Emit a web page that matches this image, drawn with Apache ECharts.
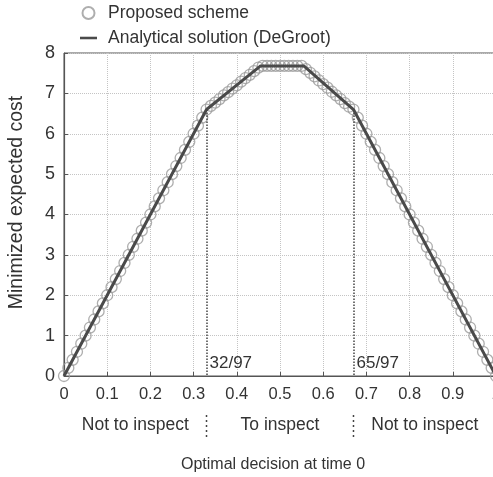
<!DOCTYPE html>
<html>
<head>
<meta charset="utf-8">
<script src="https://cdn.jsdelivr.net/npm/echarts@6/dist/echarts.min.js"></script>
<style>
  html, body { margin: 0; padding: 0; background: #fff; }
  #chart { width: 493px; height: 477px; }
</style>
</head>
<body>
<div id="chart"></div>
<script>
// proposed scheme, sampled every 0.01
const proposedX = [
  0, 0.01, 0.02, 0.03, 0.04, 0.05, 0.06, 0.07, 0.08, 0.09,
  0.1, 0.11, 0.12, 0.13, 0.14, 0.15, 0.16, 0.17, 0.18, 0.19,
  0.2, 0.21, 0.22, 0.23, 0.24, 0.25, 0.26, 0.27, 0.28, 0.29,
  0.3, 0.31, 0.32, 0.33, 0.34, 0.35, 0.36, 0.37, 0.38, 0.39,
  0.4, 0.41, 0.42, 0.43, 0.44, 0.45, 0.46, 0.47, 0.48, 0.49,
  0.5, 0.51, 0.52, 0.53, 0.54, 0.55, 0.56, 0.57, 0.58, 0.59,
  0.6, 0.61, 0.62, 0.63, 0.64, 0.65, 0.66, 0.67, 0.68, 0.69,
  0.7, 0.71, 0.72, 0.73, 0.74, 0.75, 0.76, 0.77, 0.78, 0.79,
  0.8, 0.81, 0.82, 0.83, 0.84, 0.85, 0.86, 0.87, 0.88, 0.89,
  0.9, 0.91, 0.92, 0.93, 0.94, 0.95, 0.96, 0.97, 0.98, 0.99,
  1
];
const proposedY = [
  0, 0.2, 0.4, 0.6, 0.8, 1.0, 1.2, 1.4, 1.6, 1.8,
  2.0, 2.2, 2.4, 2.6, 2.8, 3.0, 3.2, 3.4, 3.6, 3.8,
  4.0, 4.2, 4.4, 4.6, 4.8, 5.0, 5.2, 5.4, 5.6, 5.8,
  6.0, 6.2, 6.4, 6.6, 6.69, 6.77, 6.86, 6.95, 7.03, 7.12,
  7.2, 7.29, 7.38, 7.46, 7.55, 7.64, 7.68, 7.68, 7.68, 7.68,
  7.68, 7.68, 7.68, 7.68, 7.68, 7.68, 7.6, 7.51, 7.42, 7.32,
  7.23, 7.14, 7.04, 6.95, 6.86, 6.76, 6.67, 6.6, 6.4, 6.2,
  6.0, 5.8, 5.6, 5.4, 5.2, 5.0, 4.8, 4.6, 4.4, 4.2,
  4.0, 3.8, 3.6, 3.4, 3.2, 3.0, 2.8, 2.6, 2.4, 2.2,
  2.0, 1.8, 1.6, 1.4, 1.2, 1.0, 0.8, 0.6, 0.4, 0.2,
  0
];

// analytical solution breakpoints
const analyticX = [0, 32 / 97, 0.455, 0.555, 65 / 97, 1];
const analyticY = [0, 6.6, 7.68, 7.68, 6.6, 0];

const thresholdX = [32 / 97, 65 / 97];
const thresholdY = [6.6, 6.6];
const thresholdLabels = ['32/97', '65/97'];

const regionEdges = [0, 32 / 97, 65 / 97, 1];
const regionLabels = ['Not to inspect', 'To inspect', 'Not to inspect'];

const FONT = '"Liberation Sans", Arial, sans-serif';
const TEXT = '#333';
const AXIS = '#555';
const LINE = '#4a4a4a';

const chart = echarts.init(document.getElementById('chart'));

chart.setOption({
  animation: false,
  textStyle: { fontFamily: FONT, color: TEXT },
  legend: {
    orient: 'vertical', left: 80, top: 4, padding: 0,
    itemWidth: 17, itemHeight: 12, itemGap: 7,
    textStyle: { fontSize: 17.5, color: TEXT, padding: [0, 0, 0, 6] },
    data: [
      { name: 'Proposed scheme', icon: 'circle' },
      { name: 'Analytical solution (DeGroot)', icon: 'path://M0,0h20v3h-20z' }
    ]
  },
  grid: {
    left: 64, right: -3, top: 53, bottom: 101,
    outerBoundsMode: 'none',
    show: true, borderColor: AXIS, borderWidth: 1
  },
  xAxis: {
    type: 'value', min: 0, max: 1, interval: 0.1,
    name: 'Optimal decision at time 0', nameLocation: 'middle', nameGap: 81,
    nameTextStyle: { fontSize: 16, color: TEXT, padding: [0, 14, 0, 0] },
    axisLine: { lineStyle: { color: AXIS, width: 1.2 } },
    axisTick: { inside: true, length: 4, lineStyle: { color: AXIS } },
    axisLabel: { fontSize: 16.5, color: TEXT, margin: 10 },
    splitLine: { show: true, lineStyle: { type: 'dotted', color: '#c4c4c4' } }
  },
  yAxis: {
    type: 'value', min: 0, max: 8, interval: 1,
    name: 'Minimized expected cost', nameLocation: 'middle', nameGap: 37,
    nameTextStyle: { fontSize: 19.5, color: TEXT, padding: [0, 0, 0, 24] },
    axisLine: { lineStyle: { color: AXIS, width: 1.2 } },
    axisTick: { inside: true, length: 4, lineStyle: { color: AXIS } },
    axisLabel: { fontSize: 18, color: TEXT, margin: 9 },
    splitLine: { show: true, lineStyle: { type: 'dotted', color: '#c4c4c4' } }
  },
  series: [
    {
      name: 'Proposed scheme', type: 'scatter', z: 2,
      symbol: 'circle', symbolSize: 11,
      itemStyle: { color: 'rgba(255,255,255,0)', borderColor: '#9a9a9a', borderWidth: 1.3 },
      data: proposedX.map((x, i) => [x, proposedY[i]])
    },
    {
      name: 'Analytical solution (DeGroot)', type: 'line', z: 3,
      symbol: 'none',
      itemStyle: { color: LINE },
      lineStyle: { color: LINE, width: 3 },
      data: analyticX.map((x, i) => [x, analyticY[i]]),
      markLine: {
        silent: true, symbol: ['none', 'none'], label: { show: false },
        lineStyle: { type: 'dotted', color: '#444', width: 1.5 },
        data: thresholdX.map((x, i) => [{ coord: [x, thresholdY[i]] }, { coord: [x, 0] }])
      }
    }
  ]
});

// annotations under the axis, placed from the axis scale
const y0 = chart.convertToPixel({ gridIndex: 0 }, [0, 0])[1];
const px = v => chart.convertToPixel({ gridIndex: 0 }, [v, 0])[0];
const graphic = [];
thresholdX.forEach((t, i) => {
  graphic.push({
    type: 'text', x: px(t) + 3, y: y0 - 13,
    style: { text: thresholdLabels[i], font: '17px ' + FONT, fill: TEXT, verticalAlign: 'middle' }
  });
  graphic.push({
    type: 'line', shape: { x1: px(t), y1: y0 + 39, x2: px(t), y2: y0 + 64 },
    style: { stroke: '#444', lineWidth: 1.5, lineDash: [2, 3] }
  });
});
regionLabels.forEach((lab, i) => {
  graphic.push({
    type: 'text', x: (px(regionEdges[i]) + px(regionEdges[i + 1])) / 2, y: y0 + 49,
    style: { text: lab, font: '17.5px ' + FONT, fill: TEXT, align: 'center', verticalAlign: 'middle' }
  });
});
chart.setOption({ graphic: graphic });
</script>
</body>
</html>
